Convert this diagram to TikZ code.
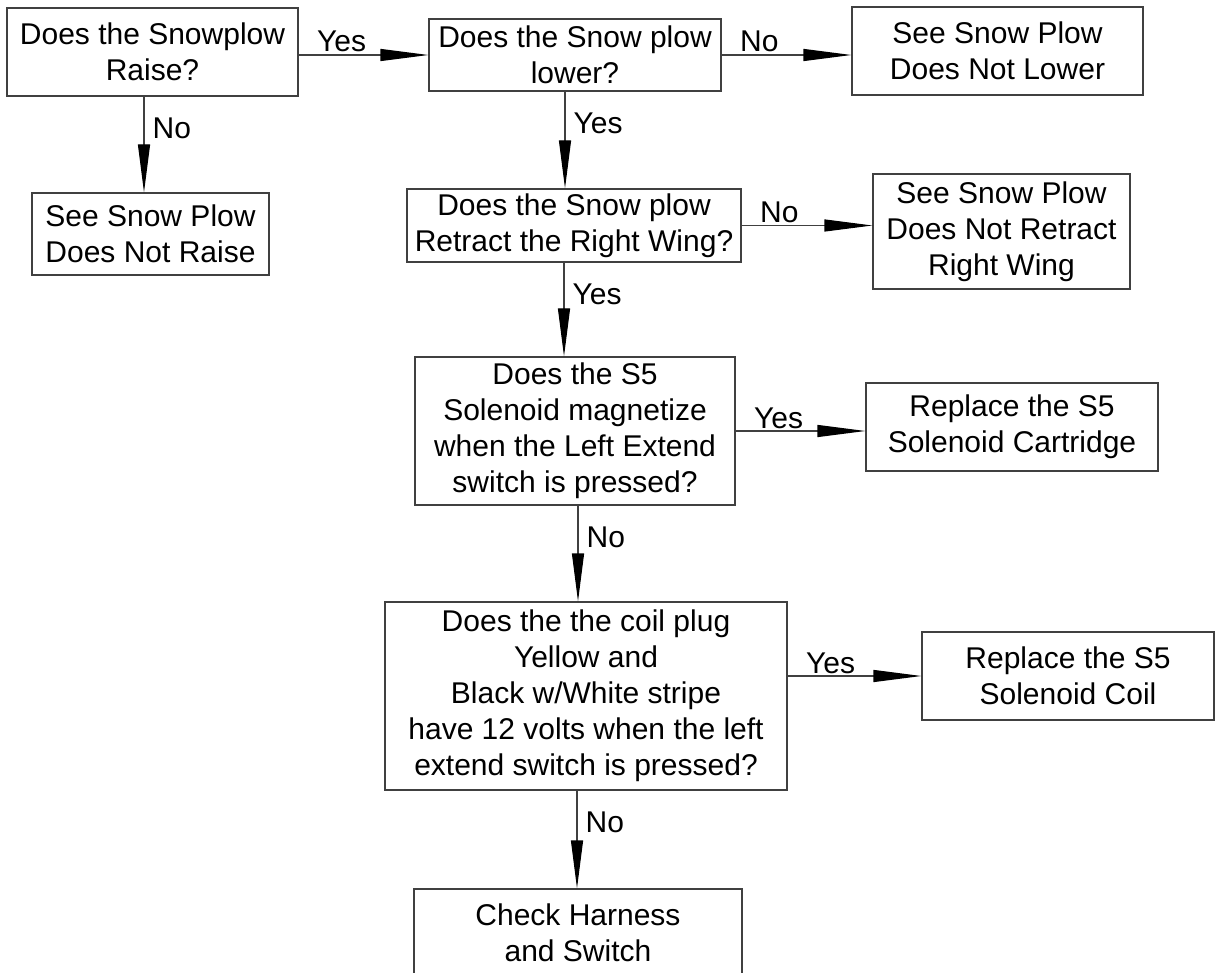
\documentclass[tikz,border=0pt]{standalone}
\usepackage{fontspec}
\setmainfont{Liberation Sans}
\usetikzlibrary{arrows.meta}
\tikzset{ % boites et fleches de l'organigramme
    texte/.style={font=\fontsize{30}{36}\selectfont},
    boite/.style={texte, draw=black!75, line width=1.2pt, align=center, inner sep=0pt},
    fleche/.style={draw=black!75, line width=1.2pt, -{Triangle[length=48pt,width=12pt,black]}},
    hlbl/.style={texte, anchor=base west, inner sep=0pt, xshift=18pt, yshift=3pt},  % etiquette sur fleche horizontale
    vlbl/.style={texte, anchor=base west, inner sep=0pt, xshift=8pt, yshift=-42pt}  % etiquette sur fleche verticale
}
\begin{document}
\begin{tikzpicture}[x=1pt,y=-1pt]
    \useasboundingbox (0,0) rectangle (1217,973);
    \clip (0,0) rectangle (1217,973);
    \node[boite, minimum width=291pt, minimum height=88pt] (raise) at (152.5,52) {Does the Snowplow\\Raise?};
    \node[boite, minimum width=292pt, minimum height=72pt] (lower) at (575,55) {Does the Snow plow\\lower?};
    \node[boite, minimum width=291pt, minimum height=88pt] (nolower) at (997.5,51) {See Snow Plow\\Does Not Lower};
    \node[boite, minimum width=237pt, minimum height=82pt] (noraise) at (150.5,234) {See Snow Plow\\Does Not Raise};
    \node[boite, minimum width=334pt, minimum height=73pt] (retract) at (574,225.5) {Does the Snow plow\\Retract the Right Wing?};
    \node[boite, minimum width=257pt, minimum height=115pt] (noretract) at (1001.5,231.5) {See Snow Plow\\Does Not Retract\\Right Wing};
    \node[boite, minimum width=320pt, minimum height=148pt] (magnet) at (575,431) {Does the S5\\Solenoid magnetize\\when the Left Extend\\switch is pressed?};
    \node[boite, minimum width=292pt, minimum height=88pt] (cartridge) at (1012,427) {Replace the S5\\Solenoid Cartridge};
    \node[boite, minimum width=402pt, minimum height=188pt] (volts) at (586,696) {Does the the coil plug\\Yellow and\\Black w/White stripe\\have 12 volts when the left\\extend switch is pressed?};
    \node[boite, minimum width=292pt, minimum height=88pt] (coil) at (1068,676) {Replace the S5\\Solenoid Coil};
    \node[boite, minimum width=328pt, minimum height=88pt] (harness) at (578,933) {Check Harness\\and Switch};
    \draw[fleche] (raise.east |- lower.west) -- (lower.west) node[pos=0,hlbl] {Yes};
    \draw[fleche] (lower.east) -- (lower.east -| nolower.west) node[pos=0,hlbl] {No};
    \draw[fleche] ([xshift=-8.5pt]raise.south) -- ([xshift=-8.5pt]raise.south |- noraise.north) node[pos=0,vlbl] {No};
    \draw[fleche] ([xshift=-10pt]lower.south) -- ([xshift=-10pt]lower.south |- retract.north) node[pos=0,vlbl] {Yes};
    \draw[fleche] (retract.east) -- (retract.east -| noretract.west) node[pos=0,hlbl] {No};
    \draw[fleche] ([xshift=-10pt]retract.south) -- ([xshift=-10pt]retract.south |- magnet.north) node[pos=0,vlbl] {Yes};
    \draw[fleche] (magnet.east) -- (magnet.east -| cartridge.west) node[pos=0,hlbl] {Yes};
    \draw[fleche] ([xshift=3pt]magnet.south) -- ([xshift=3pt]magnet.south |- volts.north) node[pos=0,vlbl] {No};
    \draw[fleche] (volts.east |- coil.west) -- (coil.west) node[pos=0,hlbl] {Yes};
    \draw[fleche] ([xshift=-9pt]volts.south) -- ([xshift=-9pt]volts.south |- harness.north) node[pos=0,vlbl] {No};
\end{tikzpicture}
\end{document}
